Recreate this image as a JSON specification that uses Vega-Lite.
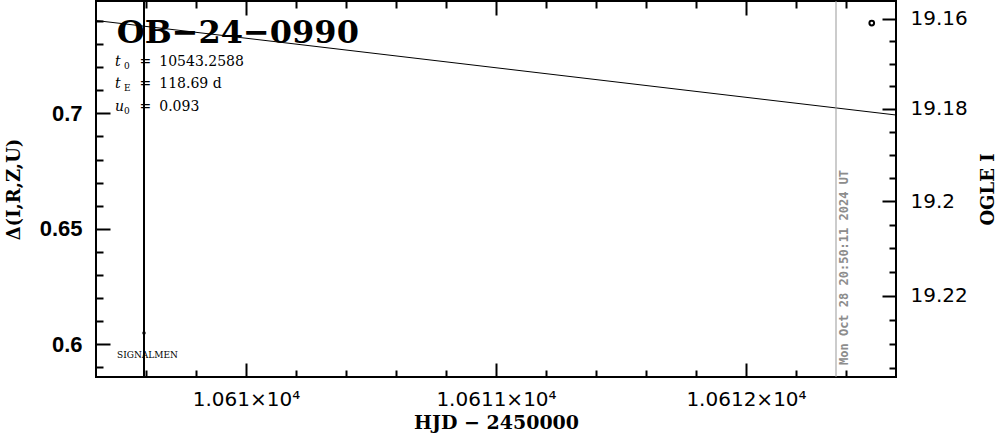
{
  "$schema": "https://vega.github.io/schema/vega-lite/v6.json",
  "width": 800,
  "height": 376,
  "autosize": {"type": "none"},
  "padding": {"left": 96, "top": 1, "right": 103, "bottom": 57},
  "background": "white",
  "config": {
    "view": {"stroke": "black", "strokeWidth": 2},
    "axis": {"domain": false, "grid": false, "tickColor": "black", "tickWidth": 2, "labelColor": "black", "titleColor": "black", "labelOverlap": false, "labelFlush": false}
  },
  "datasets": {
    "model": [
      {"hjd": 10609.4, "delta": 0.74017},
      {"hjd": 10610.2, "delta": 0.72996},
      {"hjd": 10611.0, "delta": 0.71972},
      {"hjd": 10611.8, "delta": 0.70948},
      {"hjd": 10612.6, "delta": 0.69926}
    ],
    "notes": [
      {"kind": "title", "text": "OB−24−0990", "hjd": 10609.483, "delta": 0.73043},
      {"kind": "sym", "text": "t", "hjd": 10609.476, "delta": 0.72048},
      {"kind": "sym", "text": "t", "hjd": 10609.476, "delta": 0.71074},
      {"kind": "sym", "text": "u", "hjd": 10609.476, "delta": 0.70121},
      {"kind": "sub", "text": "0", "hjd": 10609.512, "delta": 0.72048},
      {"kind": "sub", "text": "E", "hjd": 10609.512, "delta": 0.71074},
      {"kind": "sub", "text": "0", "hjd": 10609.512, "delta": 0.70121},
      {"kind": "eq", "text": "=", "hjd": 10609.574, "delta": 0.72048},
      {"kind": "eq", "text": "=", "hjd": 10609.574, "delta": 0.71074},
      {"kind": "eq", "text": "=", "hjd": 10609.574, "delta": 0.70121},
      {"kind": "val", "text": "10543.2588", "hjd": 10609.653, "delta": 0.72048},
      {"kind": "val", "text": "118.69 d", "hjd": 10609.653, "delta": 0.71074},
      {"kind": "val", "text": "0.093", "hjd": 10609.653, "delta": 0.70121},
      {"kind": "small", "text": "SIGNALMEN", "hjd": 10609.484, "delta": 0.59407},
      {"kind": "stamp", "text": "Mon Oct 28 20:50:11 2024 UT", "hjd": 10612.39, "delta": 0.59104}
    ],
    "alert": [{"hjd": 10609.592, "delta": 0.60489}],
    "now": [{"hjd": 10612.36}],
    "ogle": [{"hjd": 10612.503, "mag": 19.16095}]
  },
  "layer": [
    {
      "layer": [
        {
          "data": {"name": "model"},
          "mark": {"type": "line", "color": "black", "strokeWidth": 1, "clip": true},
          "encoding": {
            "x": {"field": "hjd", "type": "quantitative",
              "scale": {"domain": [10609.4, 10612.6], "nice": false, "zero": false},
              "axis": {"orient": "bottom", "values": [10610, 10611, 10612], "tickSize": -14, "labelPadding": 26,
                "labelExpr": "format(datum.value/10000, '.4~f') + '×10⁴'",
                "labelFont": "DejaVu Sans", "labelFontSize": 20,
                "title": "HJD − 2450000", "titleFont": "DejaVu Serif", "titleFontSize": 19, "titleFontWeight": "bold", "titlePadding": 4}},
            "y": {"field": "delta", "type": "quantitative",
              "scale": {"domain": [0.58584, 0.74862], "nice": false, "zero": false},
              "axis": {"orient": "left", "values": [0.6, 0.65, 0.7], "tickSize": -14, "labelPadding": 28, "format": ".2~f",
                "labelFont": "Liberation Sans", "labelFontWeight": "bold", "labelFontSize": 22,
                "title": "Δ(I,R,Z,U)", "titleFont": "DejaVu Serif", "titleFontSize": 18, "titleFontWeight": "bold", "titlePadding": 16}}
          }
        },
        {
          "data": {"name": "notes"},
          "transform": [{"filter": "datum.kind == 'title'"}],
          "mark": {"type": "text", "font": "DejaVu Serif", "fontWeight": "bold", "fontSize": 32, "align": "left", "baseline": "alphabetic", "color": "black"},
          "encoding": {
            "x": {"field": "hjd", "type": "quantitative",
              "scale": {"domain": [10609.4, 10612.6], "nice": false, "zero": false},
              "axis": {"orient": "bottom", "values": [10609.6, 10609.8, 10610.2, 10610.4, 10610.6, 10610.8, 10611.2, 10611.4, 10611.6, 10611.8, 10612.2, 10612.4], "tickSize": -7, "labels": false, "title": null}},
            "y": {"field": "delta", "type": "quantitative",
              "scale": {"domain": [0.58584, 0.74862], "nice": false, "zero": false},
              "axis": {"orient": "left", "values": [0.59, 0.61, 0.62, 0.63, 0.64, 0.66, 0.67, 0.68, 0.69, 0.71, 0.72, 0.73, 0.74], "tickSize": -7, "labels": false, "title": null}},
            "text": {"field": "text"}
          }
        },
        {
          "data": {"name": "notes"},
          "transform": [{"filter": "datum.kind == 'sym'"}],
          "mark": {"type": "text", "font": "DejaVu Serif", "fontStyle": "italic", "fontSize": 14, "align": "left", "baseline": "alphabetic", "color": "black"},
          "encoding": {
            "x": {"field": "hjd", "type": "quantitative",
              "scale": {"domain": [10609.4, 10612.6], "nice": false, "zero": false},
              "axis": {"orient": "top", "values": [10610, 10611, 10612], "tickSize": -14, "labels": false, "title": null}},
            "y": {"field": "delta", "type": "quantitative", "axis": null},
            "text": {"field": "text"}
          }
        },
        {
          "data": {"name": "notes"},
          "transform": [{"filter": "datum.kind == 'sub'"}],
          "mark": {"type": "text", "font": "DejaVu Serif", "fontSize": 9, "align": "left", "baseline": "alphabetic", "dy": 3, "color": "black"},
          "encoding": {
            "x": {"field": "hjd", "type": "quantitative",
              "scale": {"domain": [10609.4, 10612.6], "nice": false, "zero": false},
              "axis": {"orient": "top", "values": [10609.6, 10609.8, 10610.2, 10610.4, 10610.6, 10610.8, 10611.2, 10611.4, 10611.6, 10611.8, 10612.2, 10612.4], "tickSize": -7, "labels": false, "title": null}},
            "y": {"field": "delta", "type": "quantitative", "axis": null},
            "text": {"field": "text"}
          }
        },
        {
          "data": {"name": "notes"},
          "transform": [{"filter": "datum.kind == 'eq' || datum.kind == 'val'"}],
          "mark": {"type": "text", "font": "DejaVu Serif", "fontSize": 14, "align": "left", "baseline": "alphabetic", "color": "black"},
          "encoding": {
            "x": {"field": "hjd", "type": "quantitative", "axis": null},
            "y": {"field": "delta", "type": "quantitative", "axis": null},
            "text": {"field": "text"}
          }
        },
        {
          "data": {"name": "notes"},
          "transform": [{"filter": "datum.kind == 'small'"}],
          "mark": {"type": "text", "font": "DejaVu Serif", "fontSize": 9, "align": "left", "baseline": "alphabetic", "color": "black"},
          "encoding": {
            "x": {"field": "hjd", "type": "quantitative", "axis": null},
            "y": {"field": "delta", "type": "quantitative", "axis": null},
            "text": {"field": "text"}
          }
        },
        {
          "data": {"name": "alert"},
          "mark": {"type": "rule", "color": "black", "strokeWidth": 2},
          "encoding": {
            "x": {"field": "hjd", "type": "quantitative", "axis": null}
          }
        },
        {
          "data": {"name": "alert"},
          "mark": {"type": "point", "shape": "circle", "filled": true, "color": "black", "size": 12, "opacity": 1},
          "encoding": {
            "x": {"field": "hjd", "type": "quantitative", "axis": null},
            "y": {"field": "delta", "type": "quantitative", "axis": null}
          }
        },
        {
          "data": {"name": "now"},
          "mark": {"type": "rule", "color": "#999999", "strokeWidth": 1},
          "encoding": {
            "x": {"field": "hjd", "type": "quantitative", "axis": null}
          }
        },
        {
          "data": {"name": "notes"},
          "transform": [{"filter": "datum.kind == 'stamp'"}],
          "mark": {"type": "text", "font": "DejaVu Sans Mono", "fontWeight": "bold", "fontSize": 12, "angle": 270, "align": "left", "baseline": "middle", "color": "#8c8c8c"},
          "encoding": {
            "x": {"field": "hjd", "type": "quantitative", "axis": null},
            "y": {"field": "delta", "type": "quantitative", "axis": null},
            "text": {"field": "text"}
          }
        }
      ],
      "resolve": {"axis": {"x": "independent", "y": "independent"}}
    },
    {
      "layer": [
        {
          "data": {"name": "ogle"},
          "mark": {"type": "point", "shape": "circle", "filled": false, "color": "black", "strokeWidth": 2, "size": 22, "opacity": 1},
          "encoding": {
            "x": {"field": "hjd", "type": "quantitative", "axis": null},
            "y": {"field": "mag", "type": "quantitative",
              "scale": {"type": "pow", "exponent": 25, "domain": [19.15596, 19.2368], "reverse": true, "nice": false, "zero": false},
              "axis": {"orient": "right", "values": [19.16, 19.18, 19.2, 19.22], "tickSize": -14, "labelPadding": 28, "format": ".2~f",
                "labelFont": "DejaVu Sans", "labelFontSize": 20,
                "title": "OGLE I", "titleFont": "DejaVu Serif", "titleFontSize": 18, "titleFontWeight": "bold", "titleAngle": 270, "titleBaseline": "top", "titlePadding": 12}}
          }
        },
        {
          "data": {"name": "ogle"},
          "mark": {"type": "point", "opacity": 0},
          "encoding": {
            "x": {"field": "hjd", "type": "quantitative", "axis": null},
            "y": {"field": "mag", "type": "quantitative",
              "axis": {"orient": "right", "values": [19.165, 19.17, 19.175, 19.185, 19.19, 19.195, 19.205, 19.21, 19.215, 19.225, 19.23, 19.235], "tickSize": -7, "labels": false, "title": null}}
          }
        }
      ],
      "resolve": {"axis": {"x": "independent", "y": "independent"}}
    }
  ],
  "resolve": {"scale": {"y": "independent"}, "axis": {"x": "independent", "y": "independent"}}
}
